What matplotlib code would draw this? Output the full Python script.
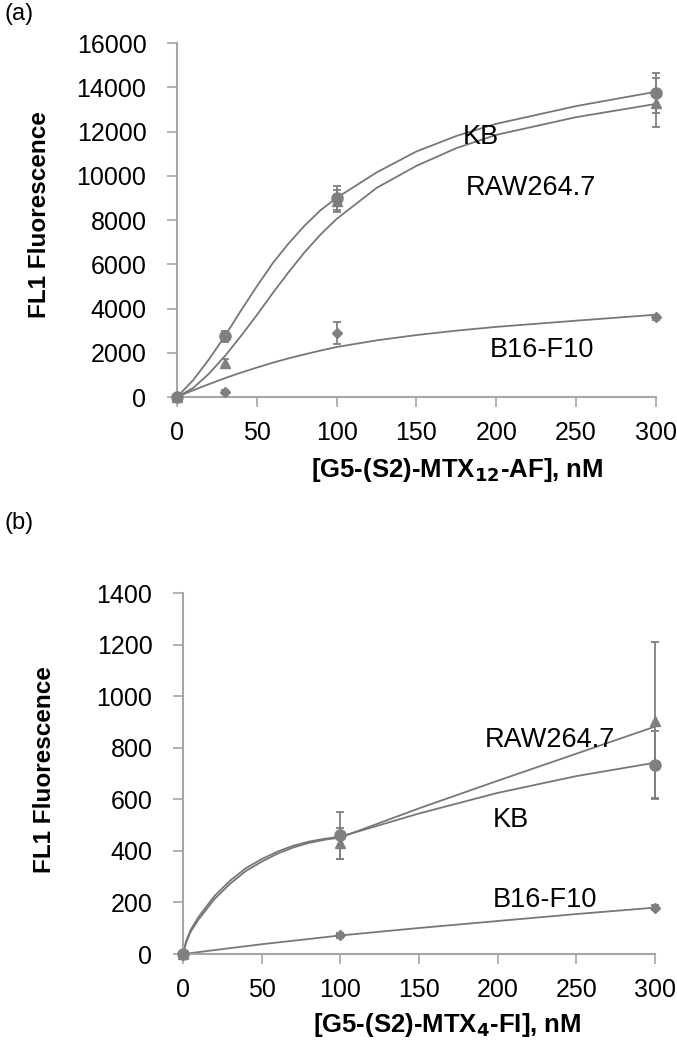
import matplotlib
matplotlib.use("Agg")
import matplotlib.pyplot as plt

plt.rcParams["font.family"] = ["Liberation Sans", "DejaVu Sans"]

# ---- panel (a) data: measured points ----
a_x = [0, 30, 100, 300]
a_kb = [0, 2750, 9000, 13750]
a_kb_err = [0, 250, 550, 900]
a_raw = [0, 1550, 8850, 13300]
a_raw_err = [0, 150, 500, 1100]
a_b16 = [0, 230, 2900, 3600]
a_b16_err = [0, 80, 500, 100]

# fitted curves
a_fit_x = [0, 10, 20, 30, 40, 50, 60, 70, 80, 90, 100, 125, 150, 175, 200, 250, 300]
a_fit_kb = [0, 750, 1700, 2750, 3900, 5000, 6050, 6950, 7750, 8450, 9000, 10150, 11100, 11800, 12350, 13150, 13800]
a_fit_raw = [0, 400, 1050, 1850, 2750, 3700, 4700, 5650, 6550, 7350, 8050, 9450, 10450, 11250, 11850, 12650, 13250]
a_fit_b16 = [0, 300, 580, 850, 1100, 1330, 1550, 1750, 1930, 2100, 2260, 2560, 2800, 3000, 3170, 3450, 3720]

# ---- panel (b) data ----
b_x = [0, 100, 300]
b_kb = [0, 460, 735]
b_kb_err = [0, 90, 130]
b_raw = [0, 430, 905]
b_raw_err = [0, 60, 305]
b_b16 = [0, 72, 180]
b_b16_err = [0, 8, 10]

b_fit_x = [0, 2, 5, 10, 20, 30, 40, 50, 60, 70, 80, 90, 100, 150, 200, 250, 300]
b_fit_kb = [0, 50, 95, 145, 225, 285, 333, 368, 397, 420, 436, 447, 455, 545, 625, 690, 742]
b_fit_raw = [0, 45, 88, 135, 213, 273, 322, 358, 389, 413, 431, 443, 452, 565, 672, 777, 882]
b_fit_x16 = [0, 50, 100, 150, 200, 250, 300]
b_fit_b16 = [0, 38, 72, 101, 128, 155, 180]

line_c = "#777777"
mark_c = "#7f7f7f"
axis_c = "#a6a6a6"


def style_axes(ax, xmax, ymax, ystep):
    ax.set_xlim(0, xmax)
    ax.set_ylim(0, ymax)
    ax.set_xticks(range(0, xmax + 1, 50))
    ax.set_yticks(range(0, ymax + 1, ystep))
    for s in ["top", "right"]:
        ax.spines[s].set_visible(False)
    for s in ["left", "bottom"]:
        ax.spines[s].set_color(axis_c)
        ax.spines[s].set_linewidth(1.5)
    ax.tick_params(direction="out", length=7, width=1.2, color=axis_c, labelsize=18)
    ax.tick_params(axis="x", pad=10)
    ax.tick_params(axis="y", pad=15)


def draw_series(ax, x, y, err, marker, ms):
    ax.errorbar(x, y, yerr=err, fmt=marker, ms=ms, color=mark_c, ecolor=mark_c,
                elinewidth=1.3, capsize=3, capthick=1.3, clip_on=False, zorder=3)


fig = plt.figure(figsize=(6.77, 10.5), dpi=100)

# panel (a)
ax1 = fig.add_axes([0.2614, 0.6219, 0.7075, 0.3371])
style_axes(ax1, 300, 16000, 2000)
ax1.plot(a_fit_x, a_fit_kb, color=line_c, lw=1.3)
ax1.plot(a_fit_x, a_fit_raw, color=line_c, lw=1.3)
ax1.plot(a_fit_x, a_fit_b16, color=line_c, lw=1.3)
draw_series(ax1, a_x, a_kb, a_kb_err, "o", 8)
draw_series(ax1, a_x, a_raw, a_raw_err, "^", 7)
draw_series(ax1, a_x, a_b16, a_b16_err, "D", 5)
ax1.text(179, 11750, "KB", fontsize=19.5, va="center")
ax1.text(181, 9450, "RAW264.7", fontsize=19.5, va="center")
ax1.text(196, 2120, "B16-F10", fontsize=19.5, va="center")

# panel (b)
ax2 = fig.add_axes([0.2703, 0.0914, 0.6972, 0.3438])
style_axes(ax2, 300, 1400, 200)
ax2.plot(b_fit_x, b_fit_kb, color=line_c, lw=1.3)
ax2.plot(b_fit_x, b_fit_raw, color=line_c, lw=1.3)
ax2.plot(b_fit_x16, b_fit_b16, color=line_c, lw=1.3)
draw_series(ax2, b_x, b_kb, b_kb_err, "o", 8)
draw_series(ax2, b_x, b_raw, b_raw_err, "^", 7)
draw_series(ax2, b_x, b_b16, b_b16_err, "D", 5)
ax2.text(192, 830, "RAW264.7", fontsize=19.5, va="center")
ax2.text(197, 520, "KB", fontsize=19.5, va="center")
ax2.text(197, 210, "B16-F10", fontsize=19.5, va="center")

# labels
fig.text(5 / 677, 1 - 14 / 1050, "(a)", fontsize=17, va="center")
fig.text(5 / 677, 1 - 523 / 1050, "(b)", fontsize=17, va="center")
fig.text(40 / 677, 1 - 215 / 1050, "FL1 Fluorescence", fontsize=17.5, fontweight="bold",
         rotation=90, ha="center", va="center")
fig.text(45 / 677, 1 - 770 / 1050, "FL1 Fluorescence", fontsize=17.5, fontweight="bold",
         rotation=90, ha="center", va="center")
fig.text(457 / 677, 1 - 470 / 1050, r"[G5-(S2)-MTX$_{\mathbf{12}}$-AF], nM", fontsize=18.5,
         fontweight="bold", ha="center", va="center")
fig.text(447 / 677, 1 - 1025 / 1050, r"[G5-(S2)-MTX$_{\mathbf{4}}$-FI], nM", fontsize=18.5,
         fontweight="bold", ha="center", va="center")

fig.savefig("out.png", dpi=100)
